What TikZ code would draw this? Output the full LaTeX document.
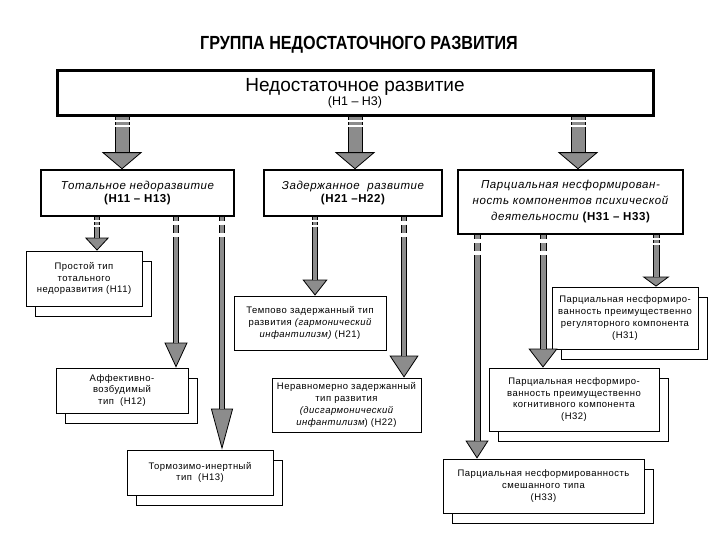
\documentclass[tikz,border=0pt]{standalone}
\usepackage{fontspec}
\setmainfont{Liberation Sans}
\newfontfamily\narrowfont[FakeStretch=0.85]{Liberation Sans}
\newfontfamily\boxfont[LetterSpace=5]{Liberation Sans}
\usetikzlibrary{arrows.meta,shadows}

\definecolor{arrgray}{RGB}{140,140,140}

\tikzset{
  mainbox/.style={draw, line width=3pt, fill=white, align=center},
  groupbox/.style={draw, line width=1.5pt, fill=white, align=center, font=\boxfont\fontsize{11.5}{13}\selectfont},
  typebox/.style={draw, line width=0.8pt, fill=white, align=center, font=\boxfont\fontsize{9.5}{11.8}\selectfont},
  twinbox/.style={typebox, copy shadow={shadow xshift=9pt, shadow yshift=-10pt, draw=black, fill=white, line width=0.8pt}},
  fat/.style n args={4}{line width=#1, draw=black, -{Triangle[width=#3,length=#4,fill=arrgray,line width=0.8pt]},
    postaction={draw=arrgray, line width=#2, -, shorten >=#4}},
  gapstart/.style={dash pattern=on 4pt off 4pt on 8pt off 4pt on 900pt},
  stripestart/.style={dash pattern=on 3pt off 2pt on 3pt off 2pt on 900pt},
}

\begin{document}
\begin{tikzpicture}[x=1pt, y=-1pt]
    \useasboundingbox (0,0) rectangle (720,540);

    \node[font=\narrowfont\bfseries\fontsize{19}{22}\selectfont] (title) at (359,45) {ГРУППА НЕДОСТАТОЧНОГО РАЗВИТИЯ};

    \node[mainbox, minimum width=596pt, minimum height=45pt] (top) at (355,93.5)
        {{\fontsize{19}{18}\selectfont Недостаточное развитие}\\{\fontsize{12.5}{14}\selectfont (Н1 – Н3)}};

    \node[groupbox, minimum width=193pt, minimum height=46pt] (tot) at (137.5,193)
        {{\itshape Тотальное недоразвитие}\\{\bfseries (Н11 – Н13)}};
    \node[groupbox, minimum width=178pt, minimum height=46pt] (zad) at (353,193)
        {{\itshape Задержанное\ \ развитие}\\{\bfseries (Н21 –Н22)}};
    \node[groupbox, minimum width=225pt, minimum height=64pt, font=\boxfont\fontsize{11.5}{16}\selectfont] (par) at (570.5,202)
        {{\itshape Парциальная несформирован-}\\{\itshape ность компонентов психической}\\{\itshape деятельности} {\bfseries (Н31 – Н33)}};

    \node[twinbox, minimum width=116pt, minimum height=55pt] (h11) at (84,278.5)
        {Простой тип\\тотального\\недоразвития (Н11)};
    \node[twinbox, minimum width=132pt, minimum height=45pt] (h12) at (122,390.5)
        {Аффективно-\\возбудимый\\тип\ \ (Н12)};
    \node[twinbox, minimum width=146pt, minimum height=45pt] (h13) at (200,472.5)
        {Тормозимо-инертный\\тип\ \ (Н13)};

    \node[typebox, minimum width=152pt, minimum height=54pt] (h21) at (310,323)
        {Темпово задержанный тип\\развития {\itshape (гармонический}\\{\itshape инфантилизм)} (Н21)};
    \node[typebox, minimum width=149pt, minimum height=54pt] (h22) at (346.5,405)
        {Неравномерно задержанный\\тип развития\\{\itshape (дисгармонический}\\{\itshape инфантилизм}) (Н22)};

    \node[twinbox, minimum width=146pt, minimum height=62pt] (h31) at (625,318)
        {Парциальная несформиро-\\ванность преимущественно\\регуляторного компонента\\(Н31)};
    \node[twinbox, minimum width=170pt, minimum height=63pt] (h32) at (574,399.5)
        {Парциальная несформиро-\\ванность преимущественно\\когнитивного компонента\\(Н32)};
    \node[twinbox, minimum width=201pt, minimum height=54pt] (h33) at (543.5,486)
        {Парциальная несформированность\\смешанного типа\\(Н33)};

    % from the main box
    \draw[fat={15pt}{13pt}{40pt}{17pt}, stripestart] (top.south -| 122,0) -- (tot.north -| 122,0);
    \draw[fat={15pt}{13pt}{40pt}{17pt}, stripestart] (top.south -| 355,0) -- (zad.north -| 355,0);
    \draw[fat={15pt}{13pt}{40pt}{17pt}, stripestart] (top.south -| 578,0) -- (par.north -| 578,0);

    % total
    \draw[fat={6pt}{4pt}{24pt}{13pt}, stripestart] (tot.south -| 97,0) -- (h11.north -| 97,0);
    \draw[fat={6pt}{4pt}{23pt}{25pt}, gapstart] (tot.south -| 176,0) -- (h12.north -| 176,0);
    \draw[fat={6pt}{4pt}{22pt}{41pt}, gapstart] (tot.south -| 222,0) -- (h13.north -| 222,0);

    % delayed
    \draw[fat={6pt}{4pt}{25pt}{16pt}, stripestart] (zad.south -| 315,0) -- (h21.north -| 315,0);
    \draw[fat={6pt}{4pt}{29pt}{22pt}, gapstart] (zad.south -| 404,0) -- (h22.north -| 404,0);

    % partial
    \draw[fat={7pt}{5pt}{23pt}{18pt}, gapstart] (par.south -| 477,0) -- (h33.north -| 477,0);
    \draw[fat={7pt}{5pt}{29pt}{19pt}, gapstart] (par.south -| 543,0) -- (h32.north -| 543,0);
    \draw[fat={7pt}{5pt}{27pt}{10pt}, stripestart] (par.south -| 656,0) -- (h31.north -| 656,0);
\end{tikzpicture}
\end{document}
